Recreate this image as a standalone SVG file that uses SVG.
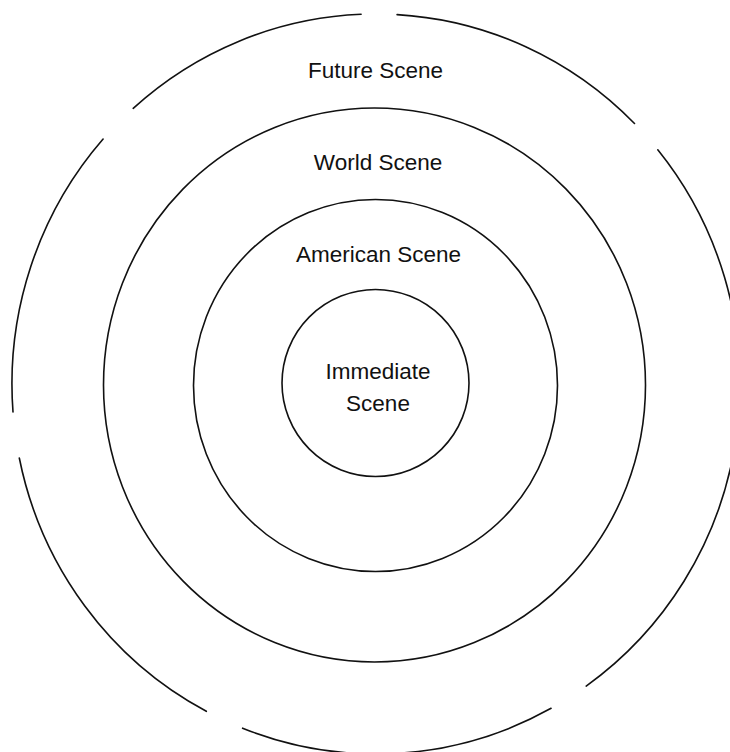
<svg xmlns="http://www.w3.org/2000/svg" width="730" height="752" viewBox="0 0 730 752">
<style>
.ring{fill:none;stroke:#111;stroke-width:1.6;stroke-linecap:round}
.lbl{font-family:"Liberation Sans",Arial,sans-serif;font-size:22.5px;fill:#111;text-anchor:middle}
</style>
<rect x="0" y="0" width="730" height="752" fill="#fff"/>
<g id="future-scene">
<path class="ring" d="M397.1,14.6 A364,370 0 0 1 634.5,123.5"/>
<path class="ring" d="M657.8,149.8 A364,370 0 0 1 586.2,686.1"/>
<path class="ring" d="M551.1,708.3 A364,370 0 0 1 242.6,728.2"/>
<path class="ring" d="M206.3,711.3 A364,370 0 0 1 19.3,458"/>
<path class="ring" d="M13,412 A364,370 0 0 1 103.1,139.1"/>
<path class="ring" d="M133.2,108.3 A364,370 0 0 1 361.1,14.3"/>
<text class="lbl" x="375.5" y="78">Future Scene</text>
</g>
<g id="world-scene">
<ellipse class="ring" cx="374.5" cy="385" rx="271" ry="277"/>
<text class="lbl" x="378" y="170">World Scene</text>
</g>
<g id="american-scene">
<ellipse class="ring" cx="375.5" cy="385.5" rx="182" ry="186"/>
<text class="lbl" x="378.5" y="262">American Scene</text>
</g>
<g id="immediate-scene">
<circle class="ring" cx="375.5" cy="383" r="93.5"/>
<text class="lbl" x="378" y="379">Immediate</text>
<text class="lbl" x="378" y="411">Scene</text>
</g>
<g id="connectors"></g>
</svg>
